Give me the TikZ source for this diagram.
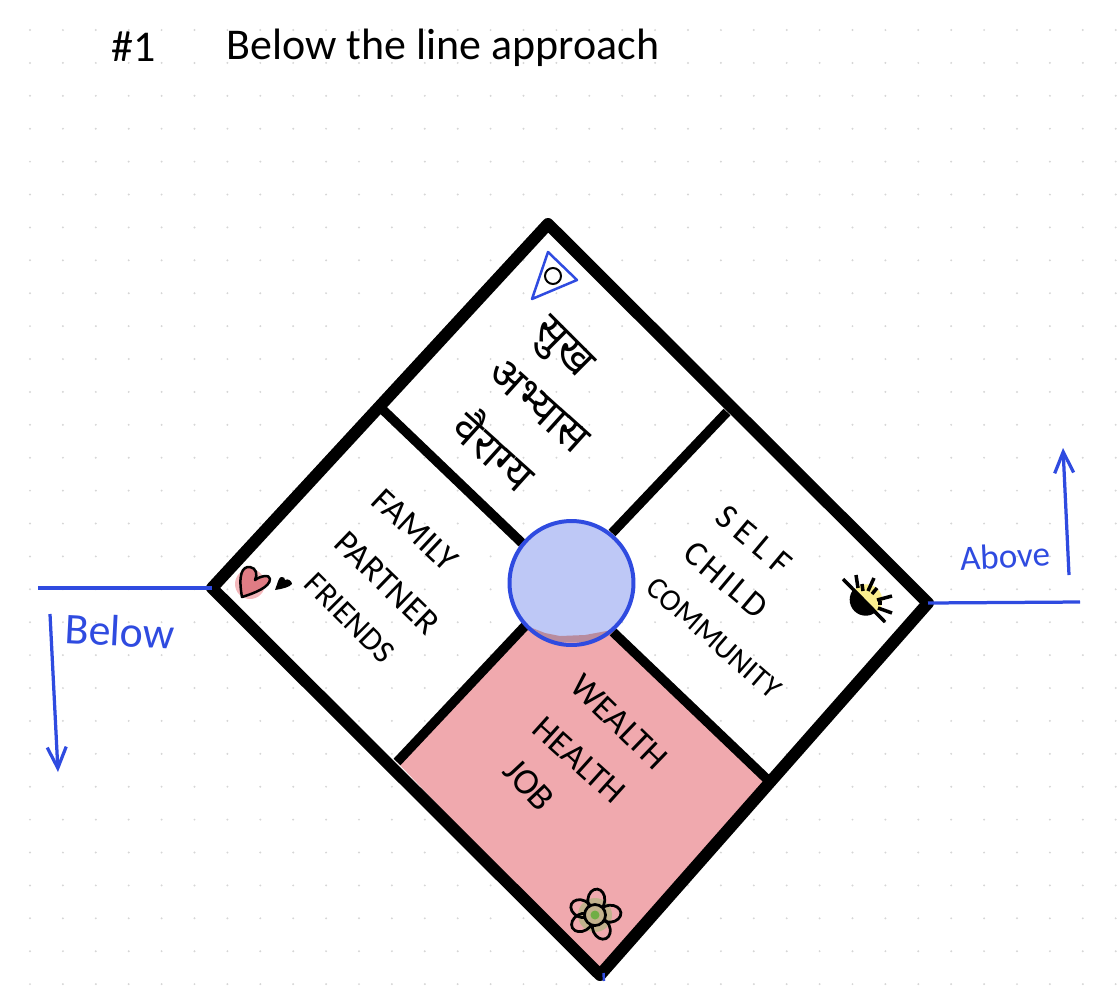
\documentclass[tikz,border=0pt]{standalone}
\usepackage{fontspec}
\setmainfont{Carlito}
\newfontfamily\devafont[Script=Devanagari]{Noto Sans}
\usepackage{xcolor}
\usepackage{tikz}
\usetikzlibrary{arrows.meta}

\definecolor{penblue}{HTML}{2F4BE0}
\definecolor{discblue}{HTML}{BEC8F6}
\definecolor{wealthpink}{HTML}{F0A9AE}
\definecolor{overlapmauve}{HTML}{B88C9F}
\definecolor{griddot}{HTML}{D6D6D6}
\definecolor{heartred}{HTML}{E07C84}
\definecolor{heartblob}{HTML}{F4B8BC}
\definecolor{sunyellow}{HTML}{FBF08F}
\definecolor{flowertan}{HTML}{C2B28C}
\definecolor{flowergreen}{HTML}{6FAE45}

\tikzset{
    frameline/.style={line width=0.24cm, line cap=round, line join=round},
    spoke/.style={line width=0.19cm},
    blueline/.style={penblue, line width=0.065cm},
    bluearrow/.style={penblue, line width=0.065cm, -{Straight Barb[length=0.42cm, width=0.38cm]}},
    ink/.style={text=black, font=\fontsize{20}{20}\selectfont},
    inkdeva/.style={text=black, font=\devafont\fontsize{25}{25}\selectfont},
    bluetext/.style={text=penblue, font=\fontsize{25}{25}\selectfont},
    title/.style={text=black, font=\fontsize{25}{25}\selectfont},
    sunline/.style={line width=0.07cm},
    petal/.style={draw=black, line width=0.055cm}
}

\begin{document}
\begin{tikzpicture}[x=0.02cm, y=-0.02cm]
    \useasboundingbox (0, 0) rectangle (1120, 1002);

    % Dotted paper
    \foreach \i in {0,...,33} {
        \foreach \j in {0,...,30} {
            \fill[griddot] ({30+32.9*\i}, {30+32.9*\j}) circle (0.022cm);
        }
    }

    % Corners and edge points of the square
    \coordinate (top) at (548, 224);
    \coordinate (right) at (928, 603);
    \coordinate (bottom) at (600, 975);
    \coordinate (left) at (212, 588);
    \coordinate (nw) at (381, 408);
    \coordinate (ne) at (727, 412);
    \coordinate (se) at (770, 782);
    \coordinate (sw) at (397, 762);
    \coordinate (nwin) at (522, 543);
    \coordinate (nein) at (612, 533);
    \coordinate (sein) at (613, 632);
    \coordinate (swin) at (525, 626);

    % Pink quarter
    \fill[wealthpink] (sw) -- (swin) -- (sein) -- (se) -- (bottom) -- cycle;

    % Outer square and spokes
    \draw[frameline] (top) -- (right) -- (bottom) -- (left) -- cycle;
    \draw[spoke] (nw) -- (nwin);
    \draw[spoke] (ne) -- (nein);
    \draw[spoke] (se) -- (sein);
    \draw[spoke] (sw) -- (swin);

    % Disc in the middle
    \fill[discblue] (571.5, 583) circle (1.24cm);
    \begin{scope}
        \clip (571.5, 583) circle (1.24cm);
        \fill[wealthpink] (520, 640) rectangle (625, 650);
        \fill[overlapmauve] (527, 626) -- (545, 633) -- (560, 636) -- (585, 635) -- (612, 630) -- (615, 642) -- (525, 642) -- cycle;
    \end{scope}
    \node[circle, draw=penblue, line width=0.08cm, minimum size=2.48cm, inner sep=0pt] (disc) at (571.5, 583) {};

    % Level lines and arrows
    \coordinate (belowend) at (38, 588);
    \coordinate (aboveend) at (1080, 602);
    \coordinate (belowstart) at (50, 614);
    \coordinate (belowtip) at (58, 772);
    \coordinate (abovestart) at (1069, 575);
    \coordinate (abovetip) at (1063, 448);
    \draw[blueline] (belowend) -- (left);
    \draw[blueline] (right) -- (aboveend);
    \draw[bluearrow] (belowstart) -- (belowtip);
    \draw[bluearrow] (abovestart) -- (abovetip);
    \draw[penblue, line width=0.05cm] (603.5, 973) -- (604, 981);
    \node[bluetext, rotate=-3] (belowlabel) at (120, 631) {Below};
    \node[bluetext, rotate=3, font=\fontsize{20}{20}\selectfont] (abovelabel) at (1005, 556) {Above};

    % Heading
    \node[title] (number) at (134, 47) {\#1};
    \node[title] (heading) at (443, 48) {Below the line approach};

    % Text in the quarters
    \node[inkdeva, rotate=-45] (sukh) at (560, 350) {सुख};
    \node[inkdeva, rotate=-42] (abhyas) at (539, 406) {अभ्यास};
    \node[inkdeva, rotate=-42] (vairagya) at (496, 449) {वैराग्य};

    \node[ink, rotate=-43] (family) at (415, 530) {FAMILY};
    \node[ink, rotate=-44] (partner) at (387, 583) {PARTNER};
    \node[ink, rotate=-45, font=\fontsize{18.5}{18.5}\selectfont] (friends) at (350, 618) {FRIENDS};

    \node[ink, rotate=-40, font=\fontsize{20}{20}\selectfont\addfontfeature{LetterSpace=21}] (selftext) at (754, 540) {SELF};
    \node[ink, rotate=-40, font=\fontsize{20}{20}\selectfont\addfontfeature{LetterSpace=9}] (child) at (726, 580) {CHILD};
    \node[ink, rotate=-41, font=\fontsize{17.5}{17.5}\selectfont] (community) at (714, 638) {COMMUNITY};

    \node[ink, rotate=-44] (wealth) at (619, 722) {WEALTH};
    \node[ink, rotate=-42] (health) at (579, 760) {HEALTH};
    \node[ink, rotate=-47, font=\fontsize{21}{21}\selectfont] (job) at (529, 785) {JOB};

    % Triangle with ring
    \draw[penblue, line width=0.05cm, line join=round] (548, 252) -- (577, 280) -- (532, 299) -- cycle;
    \draw[line width=0.04cm] (553, 276) circle (0.16cm);

    % Hearts
    \fill[heartblob] (250, 584) circle (0.3cm);
    \draw[fill=heartred, line width=0.05cm, line join=round] (242, 597) .. controls (238, 575) and (242, 566) .. (250, 567) .. controls (256, 568) and (258, 574) .. (255, 580) .. controls (260, 576) and (270, 574) .. (270, 579) .. controls (270, 587) and (255, 593) .. (242, 597) -- cycle;
    \fill (275, 590) .. controls (278, 582) and (279, 576) .. (282, 577) .. controls (284, 577) and (285, 578) .. (285, 580) .. controls (288, 578) and (292, 581) .. (292, 584) .. controls (290, 587) and (282, 589) .. (275, 590) -- cycle;

    % Sun
    \fill (877, 611) arc[start angle=-45, end angle=-225, radius=0.32cm] -- cycle;
    \fill[sunyellow] (855, 589) arc[start angle=135, end angle=-45, radius=0.32cm] -- cycle;
    \draw[sunline] (843, 579) -- (885, 622);
    \draw[sunline] (856, 575) -- (858, 588);
    \draw[sunline] (862, 584) -- (863, 591);
    \draw[sunline] (874, 578) -- (868, 591);
    \draw[sunline] (877, 588) -- (872, 594);
    \draw[sunline] (892, 596) -- (877, 600);
    \draw[sunline] (882, 603) -- (878, 603);
    \draw[sunline] (892, 613) -- (878, 608);

    % Flower
    \fill[flowertan] (595, 915) circle (0.34cm);
    \foreach \ang in {-85, -5, 65, 150, 205} {
        \draw[petal, rotate around={-\ang:({595+15*cos(\ang)}, {915+15*sin(\ang)})}] ({595+15*cos(\ang)}, {915+15*sin(\ang)}) ellipse [x radius=0.22cm, y radius=0.17cm];
    }
    \draw[line width=0.055cm, fill=flowertan] (595, 915) circle (0.21cm);
    \fill[flowergreen] (595, 915) circle (0.09cm);
\end{tikzpicture}
\end{document}
